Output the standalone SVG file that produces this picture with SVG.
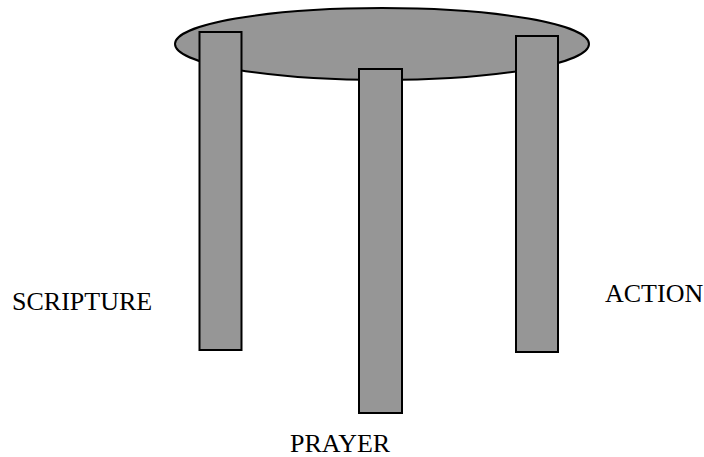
<svg xmlns="http://www.w3.org/2000/svg" width="704" height="457" viewBox="0 0 704 457">
<style>
.shape{fill:#969696;stroke:#000;stroke-width:2}
.lbl{font-family:"Liberation Serif","Times New Roman",serif;font-size:26px;fill:#000}
</style>
<rect width="704" height="457" fill="#fff"/>
<g id="top"><ellipse class="shape" cx="382" cy="44" rx="207" ry="36"/></g>
<g id="leg-scripture"><rect class="shape" x="199.5" y="32" width="42" height="318"/></g>
<g id="leg-prayer"><rect class="shape" x="359" y="69" width="43" height="344"/></g>
<g id="leg-action"><rect class="shape" x="516" y="36" width="42" height="316"/></g>
<g id="labels">
<text class="lbl" x="12" y="310">SCRIPTURE</text>
<text class="lbl" x="605" y="302">ACTION</text>
<text class="lbl" x="290" y="452">PRAYER</text>
</g>
</svg>
